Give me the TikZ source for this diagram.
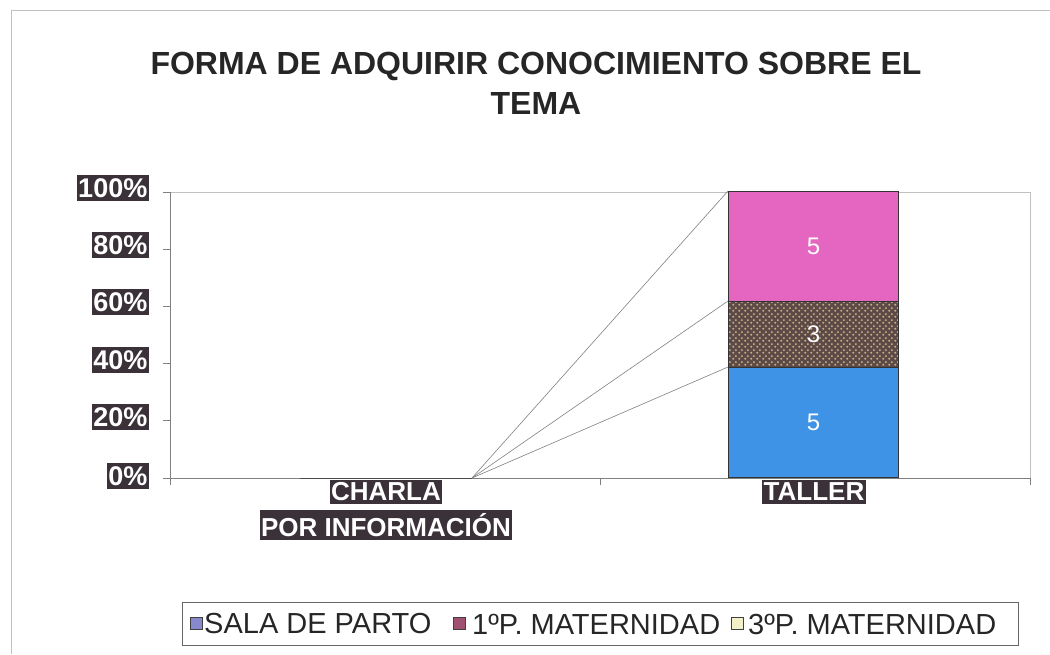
\documentclass[tikz,border=0pt]{standalone}
\usepackage{fontspec}
\setmainfont{Liberation Sans}
\usetikzlibrary{patterns}
\definecolor{labdark}{HTML}{3A3238}
\definecolor{pinkc}{HTML}{E466C0}
\definecolor{brownc}{HTML}{5C4A48}
\definecolor{tanc}{HTML}{C8A878}
\definecolor{bluec}{HTML}{3F93E6}
\definecolor{axisc}{HTML}{808080}
\definecolor{framec}{HTML}{C0C0C0}
\definecolor{swa}{HTML}{8888CC}
\definecolor{swb}{HTML}{A05070}
\definecolor{swc}{HTML}{F2F0C8}
\pgfdeclarepatternformonly{checkdots}{\pgfpointorigin}{\pgfpoint{6pt}{6pt}}{\pgfpoint{6pt}{6pt}}{%
  \pgfpathcircle{\pgfpoint{1.5pt}{1.5pt}}{1.3pt}%
  \pgfpathcircle{\pgfpoint{4.5pt}{4.5pt}}{1.3pt}%
  \pgfusepath{fill}}
\tikzset{
  ylab/.style={fill=labdark, text=white, font=\bfseries\fontsize{27}{27}\selectfont, inner xsep=1.5pt, inner ysep=3.5pt, anchor=east},
  catlab/.style={fill=labdark, text=white, font=\bfseries\fontsize{26}{26}\selectfont, inner xsep=1.5pt, inner ysep=3pt},
  seg/.style={draw=black!80, line width=1pt, minimum width=170pt, anchor=south west, inner sep=0pt, text=white, font=\fontsize{24}{24}\selectfont},
  serline/.style={draw=gray, line width=0.6pt},
  swatch/.style={draw=black!75, minimum size=12pt, inner sep=0pt},
  legtext/.style={font=\fontsize{29}{29}\selectfont, text=black!85, anchor=west, inner sep=0pt},
}
\begin{document}
\begin{tikzpicture}[x=1pt,y=-1pt]
\useasboundingbox (0,0) rectangle (1050,654);
% outer frame
\draw[framec, line width=1pt] (11,654) -- (11,10) -- (1050,10);
% title
\node[font=\bfseries\fontsize{32}{40}\selectfont, align=center, text=black!85] (title) at (536,83) {FORMA DE ADQUIRIR CONOCIMIENTO SOBRE EL\\TEMA};
% plot area frame
\draw[framec, line width=0.8pt] (170,192) -- (1030,192) -- (1030,478);
% axes
\draw[axisc, line width=1pt] (170,192) -- (170,478) -- (1030,478);
\foreach \yy in {192,249.2,306.4,363.6,420.8,478} \draw[axisc, line width=1pt] (163,\yy) -- (170,\yy);
\foreach \xx in {170,600,1030} \draw[axisc, line width=1pt] (\xx,478) -- (\xx,485);
% y labels
\node[ylab] (y100) at (149,188) {100\%};
\node[ylab] (y80) at (149,245) {80\%};
\node[ylab] (y60) at (149,302) {60\%};
\node[ylab] (y40) at (149,360) {40\%};
\node[ylab] (y20) at (149,417) {20\%};
\node[ylab] (y0) at (149,476) {0\%};
% bars
\node[seg, fill=bluec, minimum height=110pt] (s1) at (728,478) {5};
\node[seg, preaction={fill=brownc}, pattern=checkdots, pattern color=tanc, minimum height=66pt] (s2) at (728,368) {3};
\node[seg, fill=pinkc, minimum height=110pt] (s3) at (728,302) {5};
% zero bar of CHARLA
\coordinate (c0) at (472,478);
\draw[black!70, line width=1pt] (300,478) -- (c0);
% series lines
\draw[serline] (c0) -- (s1.north west);
\draw[serline] (c0) -- (s2.north west);
\draw[serline] (c0) -- (s3.north west);
% category labels
\node[catlab] (charla) at (386,492) {CHARLA};
\node[catlab] (porinf) at (386,525) {POR INFORMACIÓN};
\node[catlab] (taller) at (814,492) {TALLER};
% legend
\node[draw=black!60, line width=0.8pt, minimum width=836pt, minimum height=43pt, inner sep=0pt] (leg) at (600,623.5) {};
\node[swatch, fill=swa] (sw1) at (196,623) {};
\node[legtext] (lt1) at (204,624) {SALA DE PARTO};
\node[swatch, fill=swb] (sw2) at (459,623) {};
\node[legtext] (lt2) at (472,624) {1ºP. MATERNIDAD};
\node[swatch, fill=swc] (sw3) at (737,623) {};
\node[legtext] (lt3) at (748,624) {3ºP. MATERNIDAD};
\end{tikzpicture}
\end{document}
